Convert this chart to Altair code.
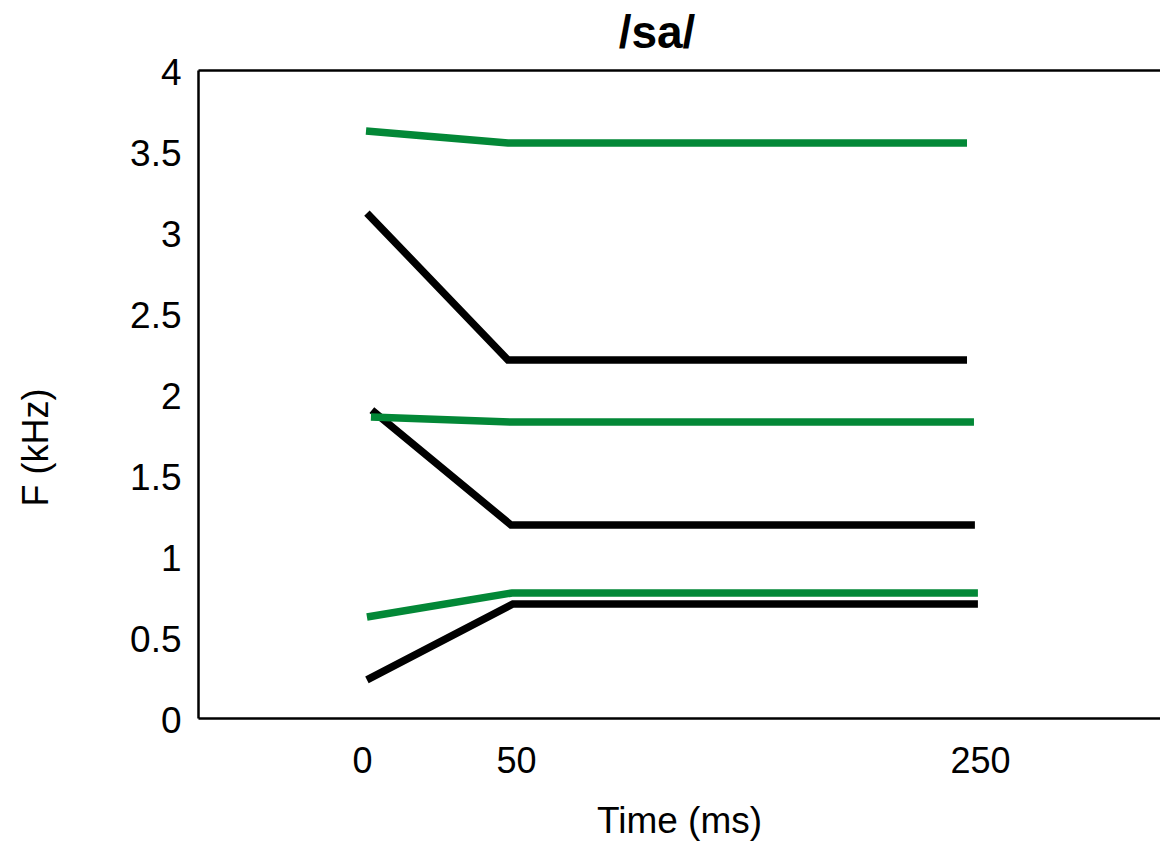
import altair as alt
import pandas as pd

# Time points (ms) and formant frequencies (kHz)
black_f1_t = [1.6, 49.0, 249.1]
black_f1_k = [0.235, 0.704, 0.704]
black_f2_t = [3.2, 48.4, 247.8]
black_f2_k = [1.901, 1.191, 1.191]
black_f3_t = [1.6, 47.4, 244.4]
black_f3_k = [3.117, 2.210, 2.210]

green_f1_t = [1.6, 48.7, 249.1]
green_f1_k = [0.623, 0.772, 0.772]
green_f2_t = [2.9, 48.4, 247.4]
green_f2_k = [1.858, 1.827, 1.827]
green_f3_t = [1.3, 47.4, 244.4]
green_f3_k = [3.623, 3.549, 3.549]

x_ticks = [0, 50, 250]
y_ticks = [0, 0.5, 1, 1.5, 2, 2.5, 3, 3.5, 4]

series = [
    ("black", "F1", black_f1_t, black_f1_k),
    ("black", "F2", black_f2_t, black_f2_k),
    ("black", "F3", black_f3_t, black_f3_k),
    ("green", "F1", green_f1_t, green_f1_k),
    ("green", "F2", green_f2_t, green_f2_k),
    ("green", "F3", green_f3_t, green_f3_k),
]
rows = []
for grp, fm, ts, ks in series:
    for i, (t, k) in enumerate(zip(ts, ks)):
        rows.append({"group": grp, "formant": fm, "line": grp + fm, "t": t, "k": k, "order": i})
df = pd.DataFrame(rows)

FONT = "Liberation Sans"
W, H = 962, 648

xscale = alt.Scale(domain=[-53.2, 0, 50, 250, 327.6], range=[0, 164, 318, 782, 962], nice=False, zero=False)
yscale = alt.Scale(domain=[0, 4], nice=False, zero=False)

yenc = alt.Y("k:Q", scale=yscale, title="F (kHz)",
             axis=alt.Axis(values=y_ticks, format=".1~f", ticks=False, grid=False,
                           domain=True, domainColor="black", domainWidth=2.5,
                           labelFont=FONT, labelFontSize=37, labelColor="black",
                           labelPadding=17, labelFlush=False, labelOverlap=False,
                           labelOffset=3,
                           titleFont=FONT, titleFontSize=36, titleFontWeight="normal",
                           titleColor="black", titlePadding=74, titleY=377))

lines = alt.Chart(df).mark_line(strokeWidth=7.5, strokeCap="butt", strokeJoin="miter").encode(
    x=alt.X("t:Q", scale=xscale, title="Time (ms)",
            axis=alt.Axis(values=x_ticks, ticks=False, grid=False, domain=True,
                          domainColor="black", domainWidth=2.5,
                          labelFont=FONT, labelFontSize=36, labelColor="black",
                          labelPadding=26, labelFlush=False, labelOverlap=False,
                          titleFont=FONT, titleFontSize=37, titleFontWeight="normal",
                          titleColor="black", titlePadding=24)),
    y=yenc,
    color=alt.Color("group:N", scale=alt.Scale(domain=["black", "green"], range=["#000000", "#038837"]), legend=None),
    detail="line:N",
    order="order:Q",
)

top = alt.Chart(df).mark_line(opacity=0).encode(
    x=alt.X("t:Q", scale=xscale,
            axis=alt.Axis(orient="top", labels=False, ticks=False, grid=False, domain=True,
                          domainColor="black", domainWidth=2.5, title=None)),
    y=yenc,
    detail="line:N",
)

chart = alt.layer(lines, top).resolve_axis(x="independent").properties(
    width=W, height=H,
    title=alt.Title("/sa/", font=FONT, fontSize=46, fontWeight="bold", fontStyle="normal",
                    color="black", anchor="middle", dx=-22, offset=-4),
    autosize=alt.AutoSizeParams(type="none"),
    padding={"left": 198, "top": 70, "right": 0, "bottom": 126},
).configure_view(strokeWidth=0).configure(background="white")

chart.save("out.html", embed_options={"renderer": "svg", "actions": False})
